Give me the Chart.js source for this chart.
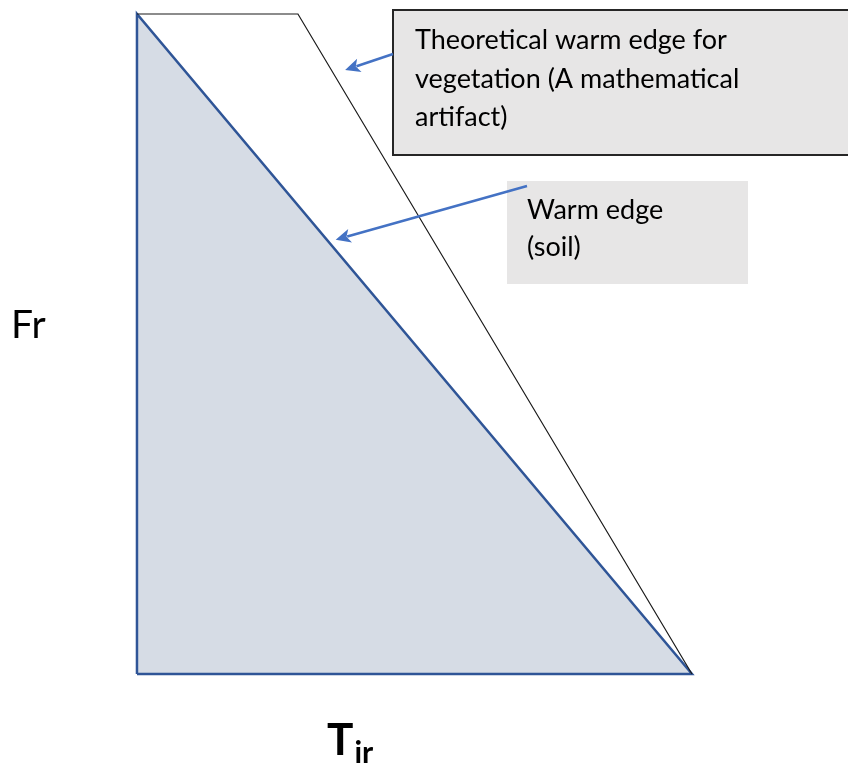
<!DOCTYPE html>
<html>
<head>
<meta charset="utf-8">
<script src="https://cdn.jsdelivr.net/npm/chart.js@4.4.1/dist/chart.umd.min.js"></script>
<style>
html,body{margin:0;padding:0;background:#fff;}
#wrap{width:848px;height:764px;position:relative;}
</style>
</head>
<body>
<div id="wrap"><canvas id="c" width="848" height="764"></canvas></div>
<script>
// Data (normalised Tir on x, Fr on y)
const soilEdgeX = [0, 0, 1, 0];
const soilEdgeY = [0, 1, 0, 0];
const theoryEdgeX = [0, 0.29, 1];
const theoryEdgeY = [1, 1, 0];
const xAxisLabel = 'T';
const xAxisSub = 'ir';
const yAxisLabel = 'Fr';
const note1Lines = ['Theoretical warm edge for', 'vegetation (A mathematical', 'artifact)'];
const note2Lines = ['Warm edge', '(soil)'];
// arrow tips in data units (points on the edges)
const note1Tip = [0.375, 0.915];
const note2Tip = [0.358, 0.658];

const toPts = (xs, ys) => xs.map((x, i) => ({x: x, y: ys[i]}));

const FONT = 'Lato, "Open Sans", sans-serif';

function arrow(ctx, x0, y0, x1, y1) {
  const ang = Math.atan2(y1 - y0, x1 - x0);
  const L = 15, W = 7;
  ctx.save();
  ctx.strokeStyle = '#4472c4';
  ctx.fillStyle = '#4472c4';
  ctx.lineWidth = 2.5;
  ctx.beginPath();
  ctx.moveTo(x0, y0);
  ctx.lineTo(x1 - Math.cos(ang) * L * 0.8, y1 - Math.sin(ang) * L * 0.8);
  ctx.stroke();
  ctx.beginPath();
  ctx.moveTo(x1, y1);
  ctx.lineTo(x1 - Math.cos(ang) * L + Math.sin(ang) * W, y1 - Math.sin(ang) * L - Math.cos(ang) * W);
  ctx.lineTo(x1 - Math.cos(ang) * L * 0.75, y1 - Math.sin(ang) * L * 0.75);
  ctx.lineTo(x1 - Math.cos(ang) * L - Math.sin(ang) * W, y1 - Math.sin(ang) * L + Math.cos(ang) * W);
  ctx.closePath();
  ctx.fill();
  ctx.restore();
}

const notesPlugin = {
  id: 'notes',
  afterDatasetsDraw(chart) {
    const ctx = chart.ctx;
    const xs = chart.scales.x, ys = chart.scales.y;
    ctx.save();
    // box 1
    ctx.fillStyle = '#e7e6e6';
    ctx.fillRect(393, 10, 470, 145);
    ctx.strokeStyle = '#262626';
    ctx.lineWidth = 2;
    ctx.strokeRect(393, 10, 470, 145);
    ctx.fillStyle = '#000';
    ctx.font = '27px ' + FONT;
    ctx.textBaseline = 'alphabetic';
    note1Lines.forEach((t, i) => ctx.fillText(t, 415, 49 + i * 38.5));
    // box 2
    ctx.fillStyle = '#e7e6e6';
    ctx.fillRect(507, 181, 241, 103);
    ctx.fillStyle = '#000';
    note2Lines.forEach((t, i) => ctx.fillText(t, 527, 219 + i * 37));
    // arrows
    arrow(ctx, 393, 54, xs.getPixelForValue(note1Tip[0]), ys.getPixelForValue(note1Tip[1]));
    arrow(ctx, 527, 186, xs.getPixelForValue(note2Tip[0]), ys.getPixelForValue(note2Tip[1]));
    // axis labels
    ctx.fillStyle = '#000';
    ctx.font = '39px ' + FONT;
    ctx.fillText(yAxisLabel, 11, 338);
    ctx.font = 'bold 44px ' + FONT;
    ctx.fillText(xAxisLabel, 327, 755);
    const tw = ctx.measureText(xAxisLabel).width;
    ctx.font = 'bold 30px ' + FONT;
    ctx.fillText(xAxisSub, 327 + tw + 1, 763);
    ctx.restore();
  }
};

new Chart(document.getElementById('c'), {
  type: 'scatter',
  data: {
    datasets: [
      {
        data: toPts(theoryEdgeX, theoryEdgeY),
        showLine: true,
        borderColor: '#1a1a1a',
        borderWidth: 1.2,
        pointRadius: 0,
        fill: false,
        tension: 0
      },
      {
        data: toPts(soilEdgeX, soilEdgeY),
        showLine: true,
        borderColor: '#2f5597',
        borderWidth: 2.5,
        backgroundColor: '#d6dce5',
        pointRadius: 0,
        fill: 'shape',
        tension: 0
      }
    ]
  },
  options: {
    responsive: false,
    animation: false,
    events: [],
    clip: false,
    layout: {padding: 0},
    plugins: {legend: {display: false}, tooltip: {enabled: false}, filler: {propagate: false}},
    scales: {
      x: {type: 'linear', display: false, min: -0.2468, max: 1.2811},
      y: {type: 'linear', display: false, min: -0.1364, max: 1.0212}
    }
  },
  plugins: [notesPlugin]
});
</script>
</body>
</html>
